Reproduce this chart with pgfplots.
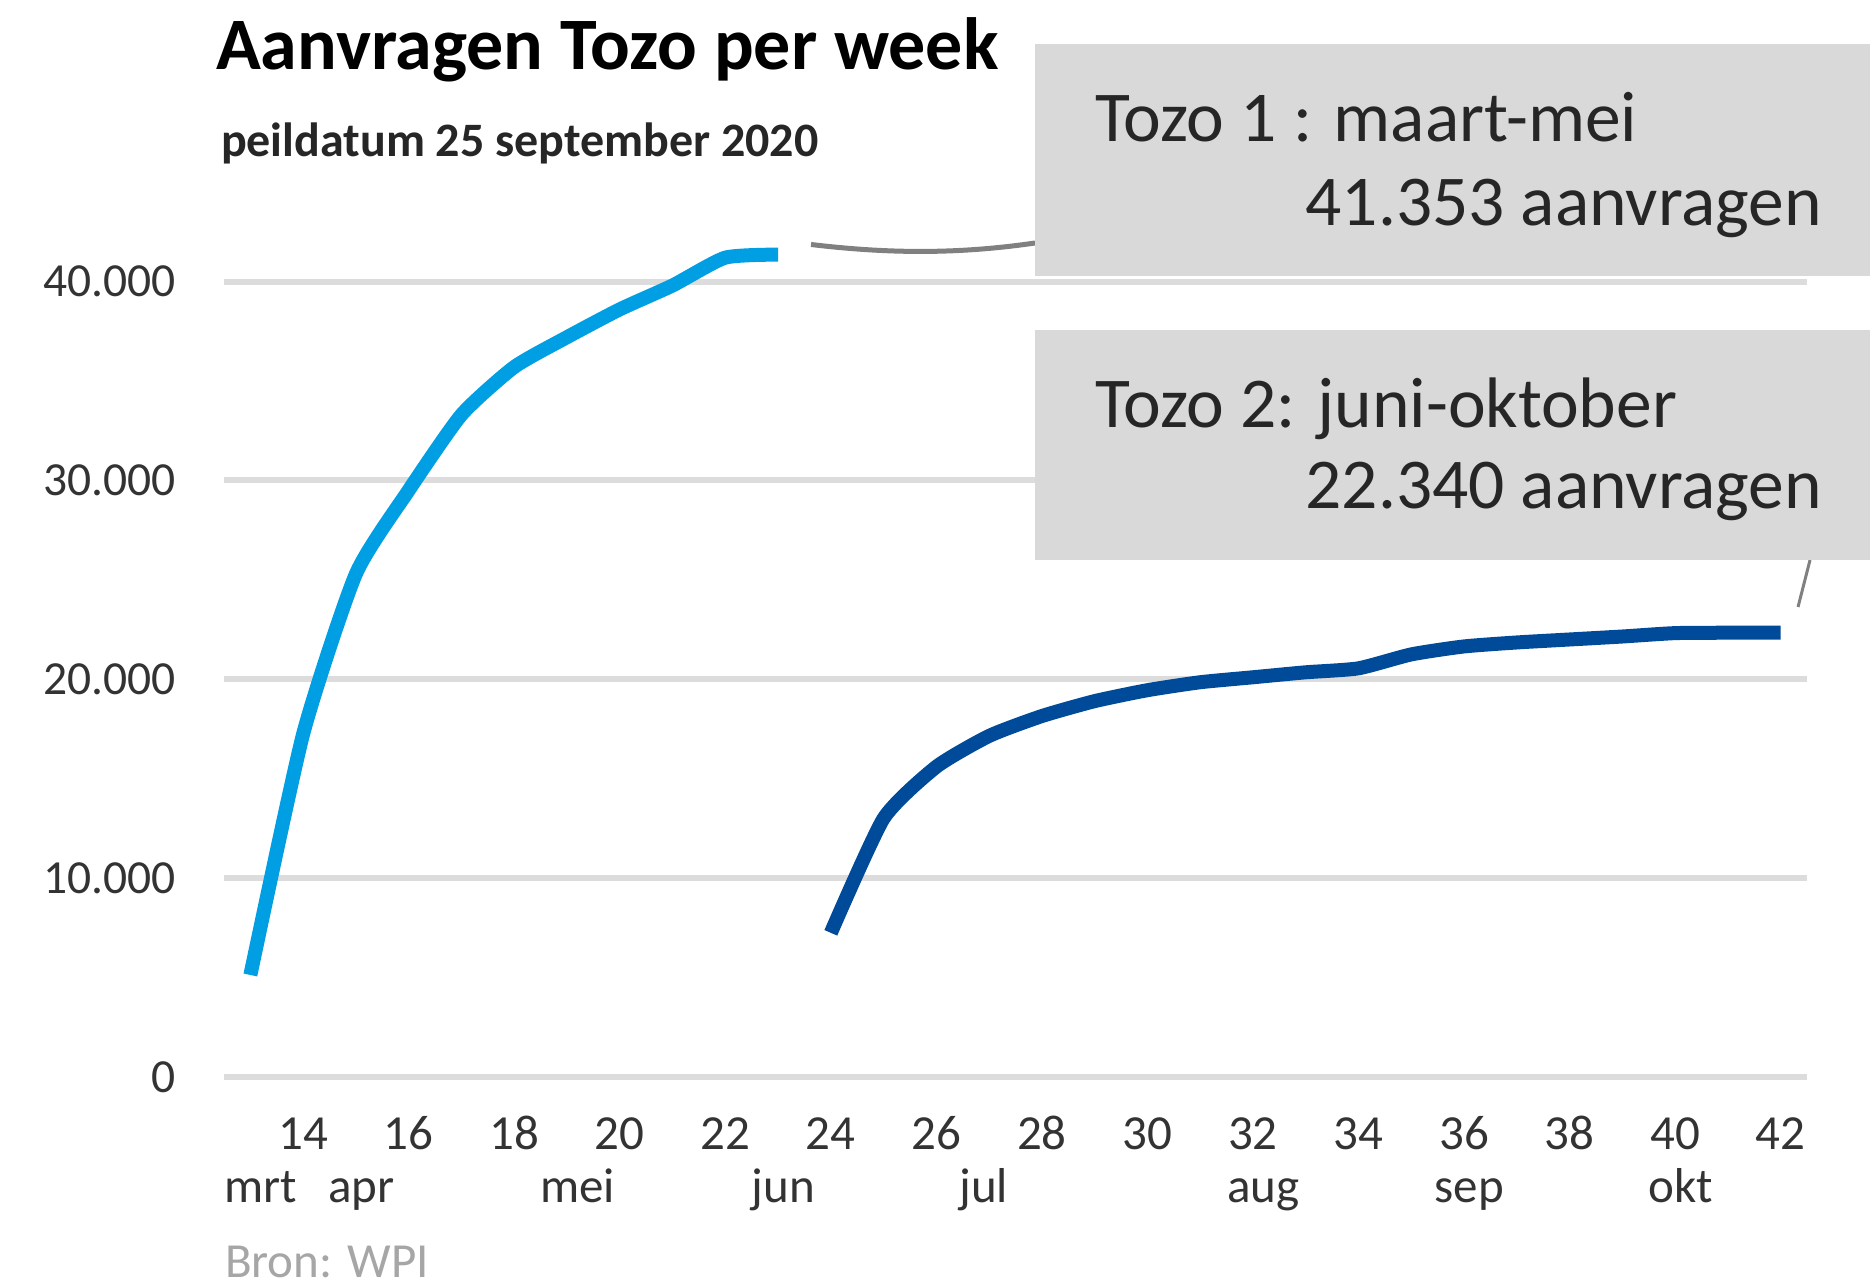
\documentclass[border=0pt]{standalone}
\usepackage{fontspec}
\setmainfont{Carlito}
\usepackage{pgfplots}
\pgfplotsset{compat=1.18}
\definecolor{tozoone}{HTML}{009FE3}
\definecolor{tozotwo}{HTML}{004A9A}
\definecolor{gridgray}{HTML}{DCDCDC}
\definecolor{boxgray}{HTML}{D9D9D9}
\definecolor{ticktext}{HTML}{333333}
\definecolor{srcgray}{HTML}{A6A6A6}
\pgfplotstableread{
week value
13 5130
14 17250
15 25300
16 29500
17 33300
18 35700
19 37200
20 38600
21 39800
22 41200
23 41353
}\tozoA
\pgfplotstableread{
week value
24 7250
25 13000
26 15600
27 17150
28 18150
29 18900
30 19450
31 19850
32 20100
33 20350
34 20550
35 21250
36 21650
37 21850
38 22000
39 22150
40 22320
41 22340
42 22340
}\tozoB
\begin{document}
\begin{tikzpicture}
\path[use as bounding box, fill=white] (0,0) rectangle (374pt,256.6pt);
\begin{axis}[
  at={(44.8pt,41.2pt)}, anchor=south west,
  scale only axis, width=316.6pt, height=159.1pt,
  xmin=12.5, xmax=42.5, ymin=0, ymax=40000,
  clip=false,
  axis line style={draw=none},
  major tick length=0pt,
  ymajorgrids, grid style={line width=1.2pt, color=gridgray},
  ytick={0,10000,20000,30000,40000},
  xtick={14,16,...,42},
  /pgf/number format/assume math mode=true,
  /pgf/number format/1000 sep={.},
  scaled y ticks=false,
  yticklabel style={font=\fontsize{9.5}{11}\selectfont, text=ticktext, anchor=east, inner sep=0pt, xshift=-9.5pt},
  xticklabel style={font=\fontsize{9.8}{12}\selectfont, text=ticktext, anchor=base, inner sep=0pt, yshift=-14.4pt},
]
\addplot[tozoone, line width=2.8pt, line join=round, smooth, tension=0.35] table[x=week, y=value] {\tozoA};
\addplot[tozotwo, line width=2.8pt, line join=round, smooth, tension=0.35] table[x=week, y=value] {\tozoB};
\begin{scope}[every node/.style={font=\fontsize{9.8}{12}\selectfont, text=ticktext, anchor=base, inner sep=0pt, yshift=-25pt}]
\node at (axis cs:13.2,0) {mrt};
\node at (axis cs:15.1,0) {apr};
\node at (axis cs:19.2,0) {mei};
\node at (axis cs:23.1,0) {jun};
\node at (axis cs:26.9,0) {jul};
\node at (axis cs:32.2,0) {aug};
\node at (axis cs:36.1,0) {sep};
\node at (axis cs:40.1,0) {okt};
\end{scope}
\end{axis}
% title
\node[anchor=base west, inner sep=0pt, font=\fontsize{14.8}{16}\selectfont\bfseries] at (43pt,242.6pt) {Aanvragen Tozo per week};
\node[anchor=base west, inner sep=0pt, font=\fontsize{9.6}{12}\selectfont\bfseries, text=black!85] at (44pt,225.3pt) {peildatum 25 september 2020};
% source
\node[anchor=base west, inner sep=0pt, font=\fontsize{9.8}{12}\selectfont, text=srcgray] at (44.8pt,1.2pt) {Bron: WPI};
% connectors
\draw[gray, line width=1pt] (162.2pt,207.7pt) .. controls (178pt,205.8pt) and (192pt,205.8pt) .. (207pt,208pt);
\draw[gray, line width=0.6pt] (362pt,144.6pt) -- (359.6pt,135.2pt);
% boxes
\fill[boxgray] (207pt,201.4pt) rectangle (374pt,247.7pt);
\fill[boxgray] (207pt,144.6pt) rectangle (374pt,190.6pt);
\begin{scope}[every node/.style={inner sep=0pt, font=\fontsize{14.3}{17}\selectfont, text=black!85}]
\node[anchor=base west] at (218.8pt,228.2pt) {Tozo 1 : maart-mei};
\node[anchor=base east] at (364.6pt,211.5pt) {41.353 aanvragen};
\node[anchor=base west] at (218.8pt,171.1pt) {Tozo 2: juni-oktober};
\node[anchor=base east] at (364.6pt,154.8pt) {22.340 aanvragen};
\end{scope}
\end{tikzpicture}
\end{document}
